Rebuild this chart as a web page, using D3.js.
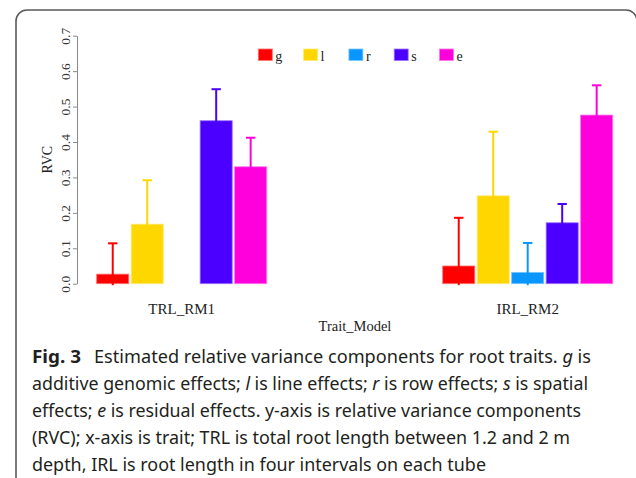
<!DOCTYPE html>
<html>
<head>
<meta charset="utf-8">
<script src="https://cdn.jsdelivr.net/npm/d3@7"></script>
<style>
  body { margin: 0; background: #fff; }
  svg { display: block; }
</style>
</head>
<body>
<svg id="chart"></svg>
<script>
const w = 636;
const h = 478;

// data
const groups = ["TRL_RM1", "IRL_RM2"];
const series = ["g", "l", "r", "s", "e"];
const colors = ["#ff0000", "#ffd700", "#0a96ff", "#4b00ff", "#ff00dc"];
const rvcTRL = [0.027, 0.168, 0, 0.460, 0.330];
const errTRL = [0.087, 0.124, null, 0.089, 0.082];
const rvcIRL = [0.050, 0.248, 0.032, 0.172, 0.476];
const errIRL = [0.136, 0.181, 0.083, 0.053, 0.084];
const yTicks = [0, 0.1, 0.2, 0.3, 0.4, 0.5, 0.6, 0.7];

const captionHead = "Fig. 3";
const caption = [
  [["Estimated relative variance components for root traits. ", ""], ["g", "i"], [" is", ""]],
  [["additive genomic effects; ", ""], ["l", "i"], [" is line effects; ", ""], ["r", "i"], [" is row effects; ", ""], ["s", "i"], [" is spatial", ""]],
  [["effects; ", ""], ["e", "i"], [" is residual effects. y-axis is relative variance components", ""]],
  [["(RVC); x-axis is trait; TRL is total root length between 1.2 and 2 m", ""]],
  [["depth, IRL is root length in four intervals on each tube", ""]]
];

const svg = d3.select("#chart")
  .attr("width", w)
  .attr("height", h);

// frame of the figure panel (runs off the right/bottom edge)
svg.append("rect")
  .attr("x", 16).attr("y", 10)
  .attr("width", 621).attr("height", 520)
  .attr("rx", 11)
  .attr("fill", "none")
  .attr("stroke", "#5a5a5a")
  .attr("stroke-width", 1.6);

const serif = "'Liberation Serif', 'Times New Roman', serif";

const y = d3.scaleLinear()
  .domain([0, 0.7])
  .range([283.7, 35.7]);

const x0 = d3.scaleBand()
  .domain(groups)
  .range([96.7, 612.7])
  .paddingInner(0.5087);

const x1 = d3.scaleBand()
  .domain(series)
  .range([0, x0.bandwidth()])
  .paddingInner(0.07);

const color = d3.scaleOrdinal().domain(series).range(colors);

const rows = [
  { group: groups[0], vals: rvcTRL, errs: errTRL },
  { group: groups[1], vals: rvcIRL, errs: errIRL }
].flatMap(g => series.map((s, i) => ({ group: g.group, key: s, v: g.vals[i], err: g.errs[i] })));

const cx = d => x0(d.group) + x1(d.key) + x1.bandwidth() / 2;

// bars
svg.append("g")
  .selectAll("rect")
  .data(rows.filter(d => d.v > 0))
  .join("rect")
  .attr("x", d => x0(d.group) + x1(d.key))
  .attr("y", d => y(d.v))
  .attr("width", x1.bandwidth())
  .attr("height", d => y(0) - y(d.v))
  .attr("fill", d => color(d.key))
  .attr("stroke", d => d3.interpolateRgb(color(d.key), "#fff")(0.45))
  .attr("stroke-width", 0.8);

// error bars (upper cap only)
const eb = svg.append("g")
  .selectAll("g")
  .data(rows.filter(d => d.err != null))
  .join("g")
  .attr("stroke", d => color(d.key))
  .attr("stroke-width", 2);

eb.append("line")
  .attr("x1", cx)
  .attr("x2", cx)
  .attr("y1", d => y(d.v + d.err))
  .attr("y2", d => y(Math.max(0, d.v - d.err)) + 1.5);

eb.append("line")
  .attr("x1", d => cx(d) - 4.7)
  .attr("x2", d => cx(d) + 4.7)
  .attr("y1", d => y(d.v + d.err))
  .attr("y2", d => y(d.v + d.err));

// y axis
const yAxis = svg.append("g")
  .attr("transform", "translate(77,0)")
  .call(d3.axisLeft(y).tickValues(yTicks).tickSize(4).tickSizeOuter(0).tickFormat(d3.format(".1f")))
  .attr("font-family", serif)
  .attr("font-size", 13.5);

yAxis.select(".domain").attr("stroke", "#8a8a8a");
yAxis.selectAll(".tick line").attr("stroke", "#8a8a8a");
yAxis.selectAll(".tick text")
  .attr("transform", "rotate(-90)")
  .attr("x", 0)
  .attr("y", -7)
  .attr("dy", 0)
  .attr("text-anchor", "middle")
  .attr("fill", "#333");

svg.append("text")
  .attr("transform", `translate(52,${y(0.35)}) rotate(-90)`)
  .attr("text-anchor", "middle")
  .attr("fill", "#222")
  .attr("font-family", serif)
  .attr("font-size", 14)
  .text("RVC");

// group labels
svg.append("g")
  .selectAll("text")
  .data(groups)
  .join("text")
  .attr("x", d => x0(d) + x0.bandwidth() / 2)
  .attr("y", 314)
  .attr("text-anchor", "middle")
  .attr("fill", "#222")
  .attr("font-family", serif)
  .attr("font-size", 15)
  .text(d => d);

svg.append("text")
  .attr("x", 355)
  .attr("y", 331)
  .attr("text-anchor", "middle")
  .attr("fill", "#222")
  .attr("font-family", serif)
  .attr("font-size", 14.5)
  .text("Trait_Model");

// legend
const lx = d3.scaleBand().domain(series).range([258.3, 258.3 + 5 * 45.3]);
const legend = svg.append("g")
  .selectAll("g")
  .data(series)
  .join("g")
  .attr("transform", d => `translate(${lx(d)},49)`);

legend.append("rect")
  .attr("width", 14)
  .attr("height", 11.5)
  .attr("fill", d => color(d))
  .attr("stroke", d => d3.interpolateRgb(color(d), "#fff")(0.45))
  .attr("stroke-width", 0.8);

legend.append("text")
  .attr("x", 17)
  .attr("y", 11.5)
  .attr("fill", "#222")
  .attr("font-family", serif)
  .attr("font-size", 14)
  .text(d => d);

const capStart = [94, 32, 32, 32, 32];
const capEnd = [591, 588, 581, 570, 486];

const cap = svg.append("g")
  .attr("font-family", "'Noto Sans', sans-serif")
  .attr("font-size", 17.5)
  .attr("fill", "#231f20");

cap.append("text")
  .attr("x", 32)
  .attr("y", 362.7)
  .attr("font-weight", "bold")
  .attr("textLength", 49)
  .attr("lengthAdjust", "spacingAndGlyphs")
  .text(captionHead);

cap.selectAll("text.line")
  .data(caption)
  .join("text")
  .attr("class", "line")
  .attr("x", (d, i) => capStart[i])
  .attr("y", (d, i) => 362.7 + i * 27)
  .attr("textLength", (d, i) => capEnd[i] - capStart[i])
  .attr("lengthAdjust", "spacingAndGlyphs")
  .style("white-space", "pre")
  .selectAll("tspan")
  .data(d => d)
  .join("tspan")
  .attr("font-style", d => d[1] === "i" ? "italic" : null)
  .text(d => d[0]);
</script>
</body>
</html>
